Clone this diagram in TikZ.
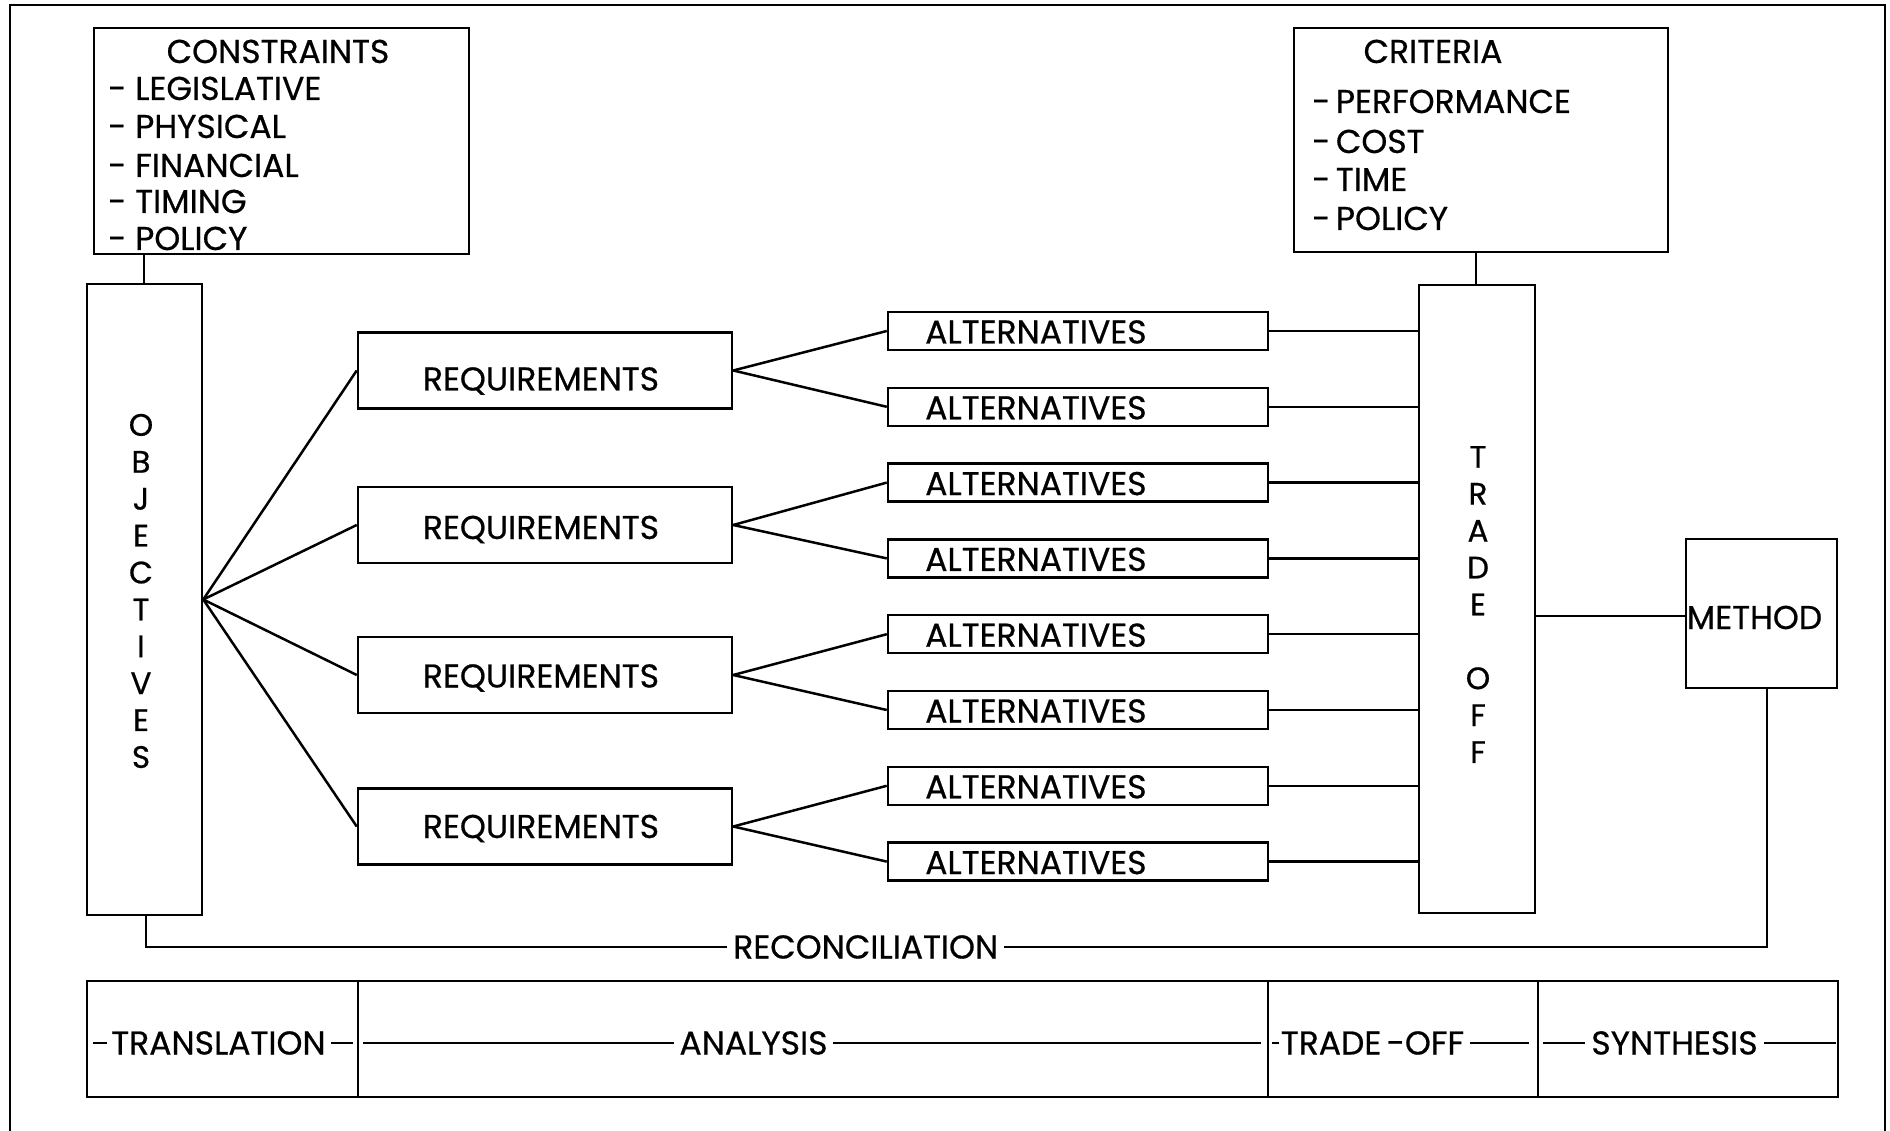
\documentclass[tikz,border=0pt]{standalone}
\usepackage{fontspec}
\setmainfont{Poppins}[FakeBold=0.6]
\usetikzlibrary{calc}
\begin{document}
\begin{tikzpicture}[x=1pt,y=-1pt,line width=2.5pt,
  box/.style={draw, inner sep=0pt},
  txt/.style={inner sep=0pt, font=\fontsize{33}{33}\selectfont, text height=23pt, text depth=0pt},
  vtxt/.style={inner sep=0pt, font=\fontsize{31}{36.9}\selectfont, align=center},
  thinln/.style={line width=2.2pt}]
\useasboundingbox (0,0) rectangle (1890,1131);
\fill[white] (0,0) rectangle (1890,1131);
% outer frame
\draw (10,1131) -- (10,5) -- (1885,5) -- (1885,1131);

% constraints
\node[box, minimum width=375pt, minimum height=226pt] (constraints) at (281.5,141) {};
\node[txt, anchor=base] (cons0) at (278,63) {CONSTRAINTS};
\node[txt, anchor=base west] (cons1) at (107,100) {- LEGISLATIVE};
\node[txt, anchor=base west] (cons2) at (107,138) {- PHYSICAL};
\node[txt, anchor=base west] (cons3) at (107,177) {- FINANCIAL};
\node[txt, anchor=base west] (cons4) at (107,213) {- TIMING};
\node[txt, anchor=base west] (cons5) at (107,250) {- POLICY};

% criteria
\node[box, minimum width=374pt, minimum height=224pt] (criteria) at (1481,140) {};
\node[txt, anchor=base] (crit0) at (1433,63) {CRITERIA};
\node[txt, anchor=base west] (crit1) at (1311,113) {-\,PERFORMANCE};
\node[txt, anchor=base west] (crit2) at (1311,153) {-\,COST};
\node[txt, anchor=base west] (crit3) at (1311,191) {-\,TIME};
\node[txt, anchor=base west] (crit4) at (1311,230) {-\,POLICY};

% objectives
\node[box, minimum width=115pt, minimum height=631pt] (objectives) at (144.5,599.5) {};
\node[vtxt] (objtxt) at (141,591) {O\\B\\J\\E\\C\\T\\I\\V\\E\\S};

% trade off
\node[box, minimum width=116pt, minimum height=628pt] (tradeoff) at (1477,599) {};
\node[vtxt] (totxt) at (1478,604.5) {T\\R\\A\\D\\E\\~\\O\\F\\F};

% method
\node[box, minimum width=151pt, minimum height=149pt] (method) at (1761.5,613.5) {};
\node[txt] (methtxt) at (1754.5,617.5) {METHOD};

% requirements
\foreach \i/\y/\ty in {1/370.5/379,2/525/527.5,3/675/676,4/826.5/826.5}{
  \node[box, minimum width=374pt, minimum height=76pt] (req\i) at (545,\y) {};
  \node[txt] (reqtxt\i) at (541,\ty) {REQUIREMENTS};
}

% alternatives
\foreach \i in {1,...,8}{
  \pgfmathsetmacro\yy{331+(\i-1)*75.8}
  \node[box, minimum width=380pt, minimum height=38pt] (alt\i) at (1078,\yy) {};
  \node[txt, anchor=west] (alttxt\i) at (924,\yy+1) {ALTERNATIVES};
}

% connectors
\draw (constraints.south -| 144,0) -- (objectives.north -| 144,0);
\draw (criteria.south -| 1476,0) -- (tradeoff.north -| 1476,0);
\foreach \i in {1,...,4}{
  \draw (objectives.east) -- (req\i.west);
}
\draw (req1.east) -- (alt1.west);
\draw (req1.east) -- (alt2.west);
\draw (req2.east) -- (alt3.west);
\draw (req2.east) -- (alt4.west);
\draw (req3.east) -- (alt5.west);
\draw (req3.east) -- (alt6.west);
\draw (req4.east) -- (alt7.west);
\draw (req4.east) -- (alt8.west);
\foreach \i in {1,...,8}{
  \draw (alt\i.east) -- (alt\i.east -| tradeoff.west);
}
\draw (tradeoff.east |- 0,616) -- (method.west |- 0,616);

% reconciliation
\coordinate (rc1) at (146,947);
\coordinate (rc2) at (1767,947);
\draw (objectives.south -| rc1) -- (rc1) -- node[txt, fill=white, inner xsep=6pt, pos=0.444] (recon) {RECONCILIATION} (rc2) -- (method.south -| rc2);

% bottom band
\node[box, minimum width=271pt, minimum height=116pt] (trans) at (222.5,1039) {};
\node[box, minimum width=910pt, minimum height=116pt] (anal) at (813,1039) {};
\node[box, minimum width=270pt, minimum height=116pt] (trade) at (1403,1039) {};
\node[box, minimum width=300pt, minimum height=116pt] (synth) at (1688,1039) {};

\node[txt] (transtxt) at (218.5,1043) {TRANSLATION};
\node[txt] (analtxt) at (753.5,1043) {ANALYSIS};
\node[txt] (tradetxt) at (1372.5,1043) {TRADE\,-OFF};
\node[txt] (synthtxt) at (1674.5,1043) {SYNTHESIS};

\draw[thinln] (transtxt.west -| trans.west) ++(7,0) -- ([xshift=-3pt]transtxt.west);
\draw[thinln] ([xshift=4pt]transtxt.east) -- ([xshift=-6pt]transtxt.east -| trans.east);
\draw[thinln] ([xshift=6pt]analtxt.west -| anal.west) -- ([xshift=-4pt]analtxt.west);
\draw[thinln] ([xshift=4pt]analtxt.east) -- ([xshift=-8pt]analtxt.east -| anal.east);
\draw[thinln] ([xshift=5pt]tradetxt.west -| trade.west) -- ([xshift=-1pt]tradetxt.west);
\draw[thinln] ([xshift=5pt]tradetxt.east) -- ([xshift=-10pt]tradetxt.east -| trade.east);
\draw[thinln] ([xshift=6pt]synthtxt.west -| synth.west) -- ([xshift=-5pt]synthtxt.west);
\draw[thinln] ([xshift=5pt]synthtxt.east) -- ([xshift=-3pt]synthtxt.east -| synth.east);
\end{tikzpicture}
\end{document}
